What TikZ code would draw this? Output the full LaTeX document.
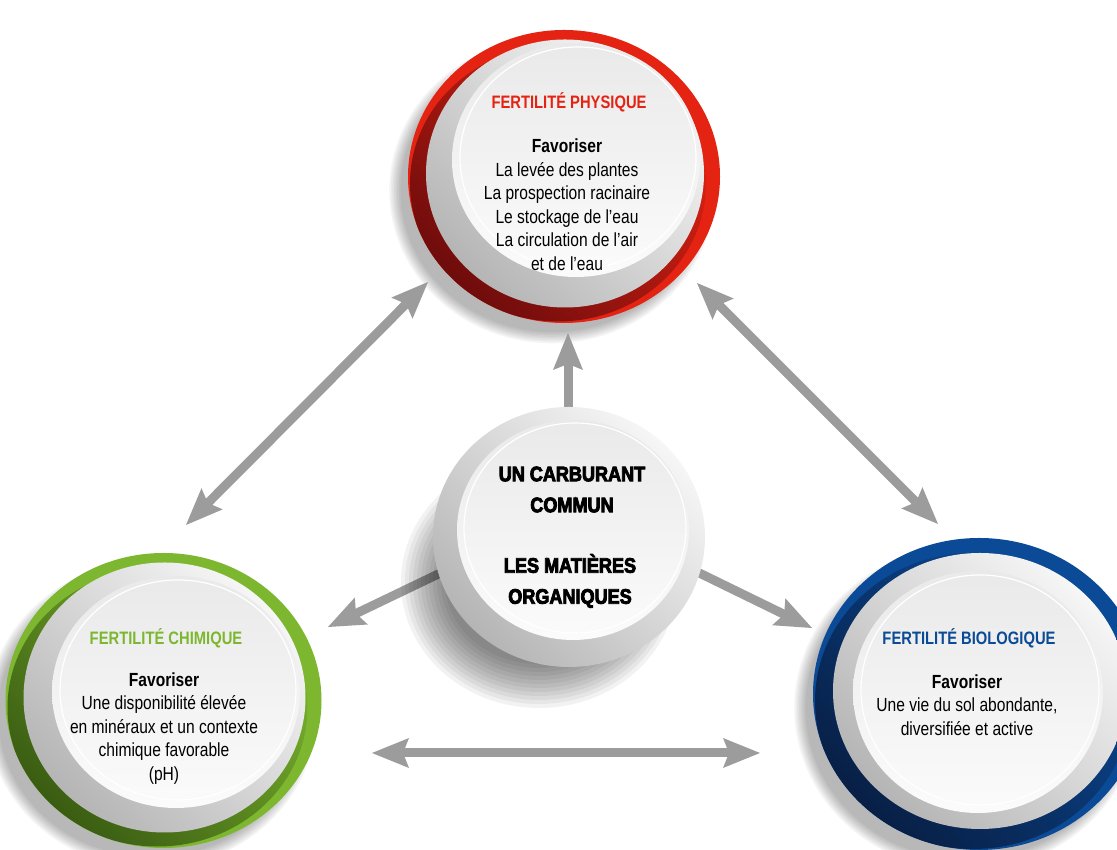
\documentclass[tikz,border=0pt]{standalone}
\usepackage{fontspec}
\setmainfont{Liberation Sans}[FakeStretch=0.82]
\newfontfamily\heavyfont{Liberation Sans}[FakeStretch=0.86,FakeBold=4]
\usetikzlibrary{arrows.meta}

\definecolor{physred}{HTML}{E42313}
\definecolor{physdark}{HTML}{6E0C0C}
\definecolor{chemgreen}{HTML}{7DB72F}
\definecolor{chemdark}{HTML}{3A5C12}
\definecolor{bioblue}{HTML}{0B4A96}
\definecolor{biodark}{HTML}{081F45}
\definecolor{arrowgray}{HTML}{9C9C9C}

\tikzset{
  >={Stealth[length=37pt,width=30pt,inset=6pt,line width=0pt]},
  link/.style={draw=arrowgray, line width=9pt},
  darkside/.style 2 args={top color=#1, bottom color=#2, shading angle=-45},
  plate/.style={top color=gray!7, bottom color=gray!58, shading angle=-45},
  disc/.style={top color=gray!17, bottom color=gray!3},
  rim/.style={draw=white, line width=1.2pt},
  halo/.style={fill=black, opacity=0.04},
  head/.style={font=\fontsize{18}{20}\selectfont\bfseries, anchor=base, inner sep=0pt},
  body/.style={font=\fontsize{19}{23.5}\selectfont, align=center, inner sep=0pt},
  core/.style={font=\heavyfont\bfseries\fontsize{21}{31}\selectfont, align=center, inner sep=0pt},
}

\begin{document}
\begin{tikzpicture}[x=1pt,y=1pt]

	\clip (0,0) rectangle (1117,850);

	% fertilite physique
	\coordinate (phys) at (564,673.5);
	\foreach \k in {1,...,8}
		\fill[halo] ([shift={(-12,-14)}]phys) ellipse [x radius=150+\k*1.6, y radius=140+\k*1.6];
	\fill[physred] (phys) ellipse [x radius=156, y radius=146.5];
	\begin{scope}
		\clip (phys) ellipse [x radius=156, y radius=146.5];
		\shade[darkside={physred}{physdark}] ([shift={(-6,-7)}]phys) ellipse [x radius=148, y radius=138];
	\end{scope}
	\shade[plate] ([shift={(1,3)}]phys) ellipse [x radius=139, y radius=134];
	\shade[disc] ([shift={(12,16.5)}]phys) ellipse [x radius=124, y radius=117];
	\draw[rim] ([shift={(14,18.5)}]phys) ellipse [x radius=118, y radius=111];

	% fertilite chimique
	\coordinate (chem) at (163.5,149.5);
	\foreach \k in {1,...,8}
		\fill[halo] ([shift={(-12,-14)}]chem) ellipse [x radius=152+\k*1.6, y radius=141+\k*1.6];
	\fill[chemgreen] (chem) ellipse [x radius=158, y radius=147.5];
	\begin{scope}
		\clip (chem) ellipse [x radius=158, y radius=147.5];
		\shade[darkside={chemgreen}{chemdark}] ([shift={(-6,-7)}]chem) ellipse [x radius=150, y radius=139];
	\end{scope}
	\shade[plate] ([shift={(1,3)}]chem) ellipse [x radius=141, y radius=135];
	\shade[disc] ([shift={(12.5,8.5)}]chem) ellipse [x radius=124, y radius=116];
	\draw[rim] ([shift={(14.5,10.5)}]chem) ellipse [x radius=118, y radius=110];

	% fertilite biologique
	\coordinate (bio) at (979,156);
	\foreach \k in {1,...,8}
		\fill[halo] ([shift={(-12,-14)}]bio) ellipse [x radius=160+\k*1.6, y radius=150+\k*1.6];
	\fill[bioblue] (bio) ellipse [x radius=166, y radius=156];
	\begin{scope}
		\clip (bio) ellipse [x radius=166, y radius=156];
		\shade[darkside={bioblue}{biodark}] ([shift={(-6,-7)}]bio) ellipse [x radius=158, y radius=148];
	\end{scope}
	\shade[plate] ([shift={(1,3)}]bio) ellipse [x radius=147, y radius=138];
	\shade[disc] ([shift={(-1,2)}]bio) ellipse [x radius=125, y radius=121];
	\draw[rim] ([shift={(1,4)}]bio) ellipse [x radius=119, y radius=115];

	% fleches
	\coordinate (e1) at (186,325);
	\coordinate (e2) at (428,568);
	\coordinate (e3) at (697,567);
	\coordinate (e4) at (938,326);
	\coordinate (e5) at (568,440);
	\coordinate (e6) at (568,517);
	\coordinate (e7) at (455,284);
	\coordinate (e8) at (328,223);
	\coordinate (e9) at (685,284);
	\coordinate (e10) at (812,222);
	\coordinate (e11) at (372,97);
	\coordinate (e12) at (760,97);

	\draw[link,<->] (e1) -- (e2);
	\draw[link,<->] (e3) -- (e4);
	\draw[link,->] (e5) -- (e6);
	\draw[link,->] (e7) -- (e8);
	\draw[link,->] (e9) -- (e10);
	\draw[link,<->] (e11) -- (e12);

	% matieres organiques
	\coordinate (orga) at (569,313);
	\foreach \k in {1,...,12}
		\fill[black, opacity=0.05] ([shift={(-30,-45)}]orga) ellipse [x radius=142-\k*4, y radius=130-\k*4];
	\shade[plate] (orga) ellipse [x radius=136, y radius=130];
	\shade[disc] ([shift={(4,7)}]orga) ellipse [x radius=116, y radius=110];
	\draw[rim] ([shift={(6,9)}]orga) ellipse [x radius=111, y radius=105];

	% textes
	\node (physh) [head, text=physred] at (569,741.5) {FERTILITÉ PHYSIQUE};
	\node (physb) [body] at (567,645.5) {\textbf{Favoriser}\\La levée des plantes\\La prospection racinaire\\Le stockage de l’eau\\La circulation de l’air\\et de l’eau};

	\node (chemh) [head, text=chemgreen] at (166,205.5) {FERTILITÉ CHIMIQUE};
	\node (chemb) [body] at (164,121.5) {\textbf{Favoriser}\\Une disponibilité élevée\\en minéraux et un contexte\\chimique favorable\\(pH)};

	\node (bioh) [head, text=bioblue] at (969,205.5) {FERTILITÉ BIOLOGIQUE};
	\node (biob) [body] at (967,145) {\textbf{Favoriser}\\Une vie du sol abondante,\\diversifiée et active};

	\node (orga1) [core] at (572,360.5) {UN CARBURANT\\COMMUN};
	\node (orga2) [core] at (570,269) {LES MATIÈRES\\ORGANIQUES};

\end{tikzpicture}
\end{document}
